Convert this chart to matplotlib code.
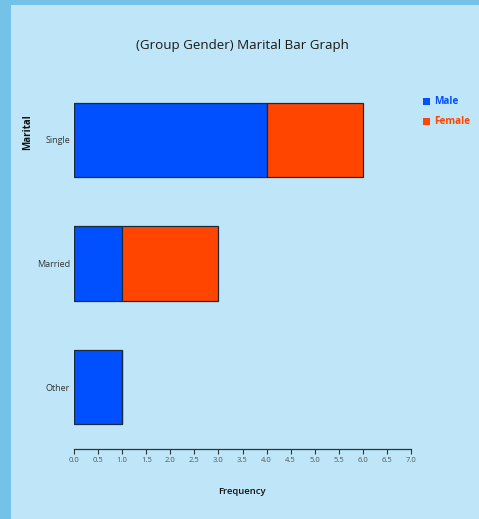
import matplotlib
matplotlib.use("Agg")
import matplotlib.pyplot as plt
import numpy as np
from matplotlib.patches import Rectangle

categories = ["Single", "Married", "Other"]
male = [4, 1, 1]
female = [2, 2, 0]
xticks = [0.0, 0.5, 1.0, 1.5, 2.0, 2.5, 3.0, 3.5, 4.0, 4.5, 5.0, 5.5, 6.0, 6.5, 7.0]

W, H = 479, 519
plt.rcParams['font.family'] = ['Open Sans', 'DejaVu Sans']
fig = plt.figure(figsize=(W/100, H/100), dpi=100)
fig.patch.set_facecolor("#74C2E8")
# light panel
bg = fig.add_axes([11/W, 0, 1 - 11/W, 1 - 5/H], zorder=-5)
bg.set_facecolor("#BEE6F8")
bg.set_xticks([]); bg.set_yticks([])
for s in bg.spines.values():
    s.set_visible(False)

ax = fig.add_axes([74/W, (H-449)/H, (411-74)/W, (449-78)/H], zorder=1)
ax.set_facecolor("none")
y = np.arange(len(categories))
male_c = "#0050FF"
female_c = "#FF4500"
ax.barh(y, male, height=0.6, color=male_c, edgecolor="#1b2a3a", linewidth=0.9)
ax.barh(y, female, left=male, height=0.6, color=female_c, edgecolor="#1b2a3a", linewidth=0.9)
ax.set_ylim(2.5, -0.5)
ax.set_xlim(0, 7)
ax.set_xticks(xticks)
ax.set_xticklabels([f"{v:.1f}" for v in xticks], fontsize=5.5, color="#555555")
ax.set_yticks(y)
ax.set_yticklabels(categories, fontsize=6.5, color="#333333")
ax.tick_params(axis='y', length=0, pad=3)
ax.tick_params(axis='x', length=3.5, width=0.8, color="#333333", pad=2)
for s in ["top", "right", "left"]:
    ax.spines[s].set_visible(False)
ax.spines["bottom"].set_color("#333333")
ax.spines["bottom"].set_linewidth(0.9)

fig.text(242/W, 1 - 46/H, "(Group Gender) Marital Bar Graph", ha="center", va="center",
         fontsize=9.6, color="#1a1a1a")
fig.text(242/W, 1 - 492/H, "Frequency", ha="center", va="center", fontsize=6.8,
         fontweight="semibold", color="#111111")
fig.text(28/W, 1 - 132/H, "Marital", ha="center", va="center", rotation=90, fontsize=7,
         fontweight="bold", color="#111111")

# legend
for i, (lab, c) in enumerate([("Male", male_c), ("Female", female_c)]):
    yy = 1 - (101 + i*20)/H
    fig.patches.append(Rectangle((423/W, yy - 3.5/H), 7/W, 7/H, transform=fig.transFigure,
                                 facecolor=c, edgecolor="none", zorder=3))
    fig.text(434/W, yy, lab, ha="left", va="center", fontsize=7.2, fontweight="bold", color=c)

fig.savefig("out.png", dpi=100, facecolor=fig.get_facecolor())
